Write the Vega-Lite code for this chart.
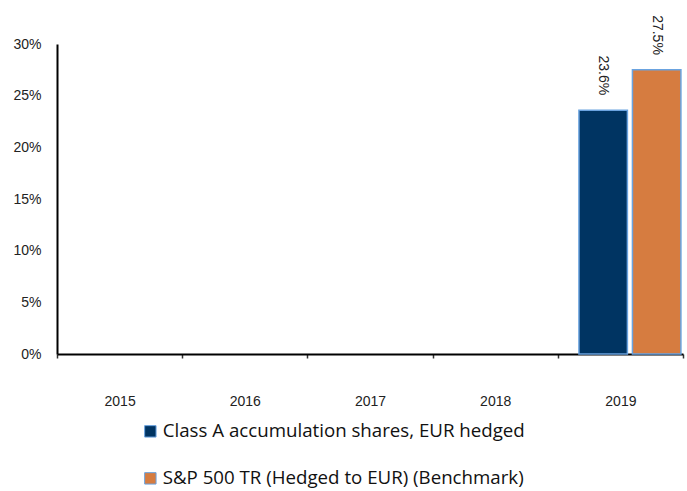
{
  "$schema": "https://vega.github.io/schema/vega-lite/v6.json",
  "autosize": "none",
  "width": 626,
  "height": 310,
  "padding": {"left": 57, "top": 44, "right": 4, "bottom": 137},
  "background": "white",
  "config": {"view": {"stroke": null}, "font": "Liberation Sans"},
  "data": {"values": [
    {"year": "2019", "series": "Class A accumulation shares, EUR hedged", "value": 23.6, "label": "23.6%"},
    {"year": "2019", "series": "S&P 500 TR (Hedged to EUR) (Benchmark)", "value": 27.5, "label": "27.5%"}
  ]},
  "encoding": {
    "x": {"field": "year", "type": "nominal",
      "scale": {"domain": ["2015", "2016", "2017", "2018", "2019"], "paddingInner": 0, "paddingOuter": 0},
      "axis": {"title": null, "labelAngle": 0, "labelFont": "Liberation Sans", "labelFontSize": 14, "labelColor": "#222", "labelPadding": 36,
        "domainColor": "#000", "domainWidth": 2, "tickColor": "#333", "tickSize": 4, "tickBand": "extent", "tickWidth": 1.5}},
    "xOffset": {"field": "series", "type": "nominal",
      "scale": {"domain": ["Class A accumulation shares, EUR hedged", "S&P 500 TR (Hedged to EUR) (Benchmark)"], "paddingInner": 0.094, "paddingOuter": 0.217, "align": 0.91}},
    "y": {"field": "value", "type": "quantitative",
      "scale": {"domain": [0, 30], "nice": false},
      "axis": {"title": null, "values": [0, 5, 10, 15, 20, 25, 30], "labelExpr": "datum.value + '%'", "grid": false, "ticks": false,
        "labelFont": "Liberation Sans", "labelFontSize": 14, "labelColor": "#222", "labelPadding": 16, "domainColor": "#000", "domainWidth": 2}}
  },
  "layer": [
    {
      "mark": {"type": "bar", "stroke": "#6aa3e0", "strokeWidth": 1.5},
      "encoding": {
        "color": {"field": "series", "type": "nominal",
          "scale": {"domain": ["Class A accumulation shares, EUR hedged", "S&P 500 TR (Hedged to EUR) (Benchmark)"], "range": ["#003462", "#d67c40"]},
          "legend": {"title": null, "orient": "none", "legendX": 84, "legendY": 378, "direction": "vertical",
            "symbolType": "square", "symbolSize": 130, "symbolStrokeWidth": 1, "symbolStrokeColor": "#6aa3e0",
            "labelFont": "Open Sans", "labelFontSize": 18.7, "labelColor": "#111", "labelLimit": 600, "labelOffset": 3, "rowPadding": 27}}
      }
    },
    {
      "mark": {"type": "text", "angle": 90, "align": "right", "baseline": "middle", "dx": -15, "font": "Liberation Sans", "fontSize": 14, "color": "#222"},
      "encoding": {"text": {"field": "label"}}
    }
  ]
}
